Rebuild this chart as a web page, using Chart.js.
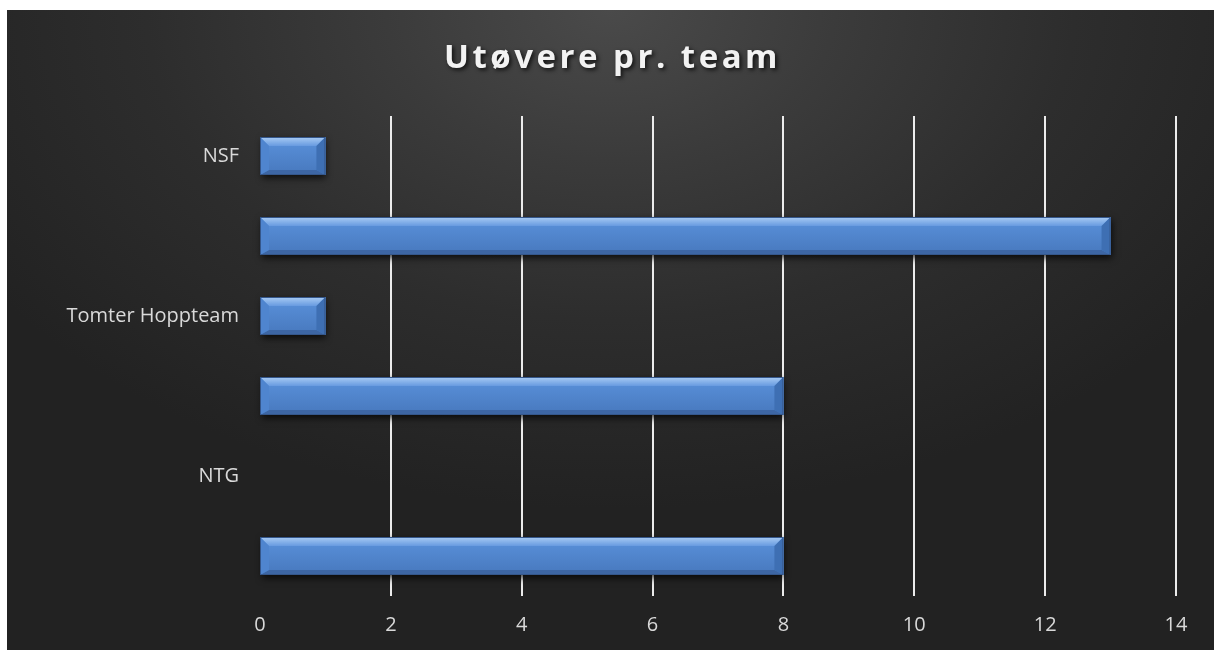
<!DOCTYPE html>
<html>
<head>
<meta charset="utf-8">
<script src="https://cdn.jsdelivr.net/npm/chart.js@4"></script>
<style>
    html, body { margin: 0; padding: 0; background: #ffffff; }
    #wrap {
        position: absolute; left: 7px; top: 10px; width: 1207px; height: 640px;
        background-color: #222222;
        background-image: radial-gradient(ellipse 62% 78% at 50% 0%, #4a4a4a 0%, #3b3b3b 30%, #2d2d2d 62%, #222222 100%);
    }
</style>
</head>
<body>
<div id="wrap"><canvas id="barTeams"></canvas></div>
<script>
// data
const categories = ["NSF", "", "Tomter Hoppteam", "", "NTG", ""];
const athletes = [1, 13, 1, 8, 0, 8];
const xTicks = [0, 2, 4, 6, 8, 10, 12, 14];
const chartTitle = "Utøvere pr. team";

const labelFont = "'Open Sans', sans-serif";

// title with shadow + letter spacing (drawn by hand, space kept by layout padding)
const titlePlugin = {
    id: "shadowTitle",
    afterDraw(chart) {
        const ctx = chart.ctx;
        ctx.save();
        ctx.font = "bold 33px " + labelFont;
        ctx.letterSpacing = "3.5px";
        ctx.textAlign = "center";
        ctx.textBaseline = "alphabetic";
        ctx.shadowColor = "rgba(0,0,0,0.75)";
        ctx.shadowBlur = 4;
        ctx.shadowOffsetX = 2;
        ctx.shadowOffsetY = 2;
        ctx.fillStyle = "#f2f2f2";
        ctx.fillText(chartTitle, chart.width / 2 + 2, 58);
        ctx.restore();
    }
};

// Excel-like beveled bars
const bevelPlugin = {
    id: "bevelBars",
    beforeDatasetsDraw(chart) {
        const ctx = chart.ctx;
        chart.getDatasetMeta(0).data.forEach(bar => {
            const { x, y, base, height } = bar.getProps(["x", "y", "base", "height"], true);
            if (x - base < 1) return;
            ctx.save();
            ctx.shadowColor = "rgba(0,0,0,0.75)";
            ctx.shadowBlur = 7;
            ctx.shadowOffsetX = 1;
            ctx.shadowOffsetY = 3;
            ctx.fillStyle = "#3a5f95";
            ctx.fillRect(base, y - height / 2, x - base, height);
            ctx.restore();
        });
    },
    afterDatasetsDraw(chart) {
        const ctx = chart.ctx;
        chart.getDatasetMeta(0).data.forEach(bar => {
            const { x, y, base, height } = bar.getProps(["x", "y", "base", "height"], true);
            if (x - base < 1) return;
            const L = base - 1, R = x, T = y - height / 2, B = y + height / 2;
            const bt = 9, bs = 9, bb = 5;
            ctx.save();
            // face
            let g = ctx.createLinearGradient(0, T, 0, B);
            g.addColorStop(0, "#5a92dc");
            g.addColorStop(1, "#4778bd");
            ctx.fillStyle = g;
            ctx.fillRect(L, T, R - L, B - T);
            // top bevel
            g = ctx.createLinearGradient(0, T, 0, T + bt);
            g.addColorStop(0, "#a9ccf4");
            g.addColorStop(1, "#679ae0");
            ctx.fillStyle = g;
            ctx.beginPath();
            ctx.moveTo(L, T); ctx.lineTo(R, T); ctx.lineTo(R - bs, T + bt); ctx.lineTo(L + bs, T + bt);
            ctx.closePath(); ctx.fill();
            // bottom bevel
            ctx.fillStyle = "#3d66a4";
            ctx.beginPath();
            ctx.moveTo(L, B); ctx.lineTo(R, B); ctx.lineTo(R - bs, B - bb); ctx.lineTo(L + bs, B - bb);
            ctx.closePath(); ctx.fill();
            // left bevel
            ctx.fillStyle = "#4f85cf";
            ctx.beginPath();
            ctx.moveTo(L, T); ctx.lineTo(L + bs, T + bt); ctx.lineTo(L + bs, B - bb); ctx.lineTo(L, B);
            ctx.closePath(); ctx.fill();
            // right bevel
            ctx.fillStyle = "#3e6fb3";
            ctx.beginPath();
            ctx.moveTo(R, T); ctx.lineTo(R - bs, T + bt); ctx.lineTo(R - bs, B - bb); ctx.lineTo(R, B);
            ctx.closePath(); ctx.fill();
            // outline
            ctx.strokeStyle = "#35578b";
            ctx.lineWidth = 1;
            ctx.strokeRect(L + 0.5, T + 0.5, R - L - 1, B - T - 1);
            ctx.restore();
        });
    }
};

new Chart(document.getElementById("barTeams"), {
    type: "bar",
    data: {
        labels: categories,
        datasets: [{
            label: "Utøvere",
            data: athletes,
            backgroundColor: "#4f81bd",
            borderWidth: 0,
            categoryPercentage: 1,
            barPercentage: 0.475
        }]
    },
    options: {
        indexAxis: "y",   // horizontal
        responsive: true,
        maintainAspectRatio: false,
        animation: false,
        layout: { padding: { top: 106, right: 38, left: 0, bottom: 0 } },
        plugins: {
            legend: { display: false },
            title: { display: false },
            tooltip: { enabled: false }
        },
        scales: {
            x: {
                min: 0,
                max: 14,
                afterBuildTicks: scale => { scale.ticks = xTicks.map(v => ({ value: v })); },
                afterFit: scale => { scale.height = 54; },
                border: { display: false },
                grid: {
                    drawTicks: false,
                    lineWidth: 2,
                    color: ctx => ctx.tick && ctx.tick.value === 0 ? "rgba(0,0,0,0)" : "#ececec"
                },
                ticks: {
                    padding: 17,
                    color: "#d9d9d9",
                    font: { family: labelFont, size: 20 }
                }
            },
            y: {
                afterFit: scale => { scale.width = 253; },
                border: { display: false },
                grid: { display: false, drawTicks: false },
                ticks: {
                    padding: 21,
                    autoSkip: false,
                    color: "#d9d9d9",
                    font: { family: labelFont, size: 20 }
                }
            }
        }
    },
    plugins: [bevelPlugin, titlePlugin]
});
</script>
</body>
</html>
